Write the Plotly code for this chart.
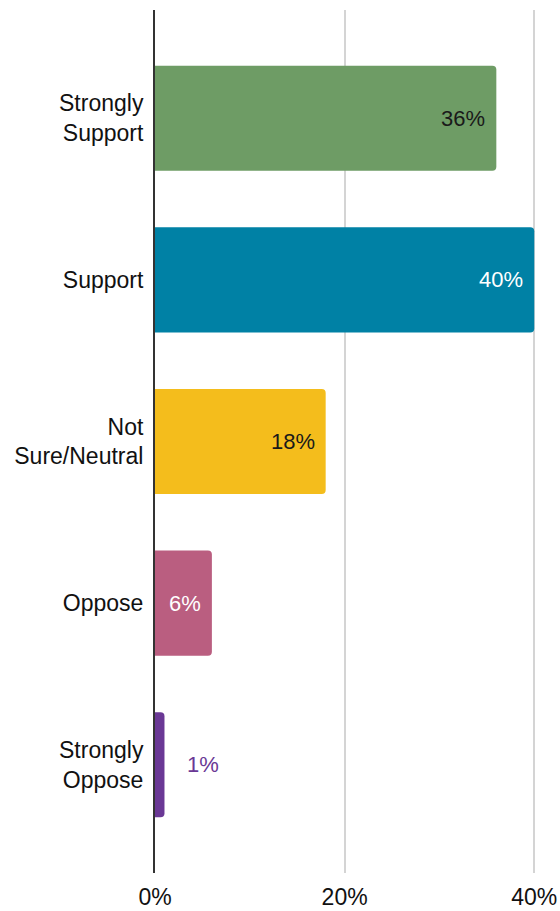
import plotly.graph_objects as go

# Survey responses, top to bottom
categories = ["Strongly<br>Support", "Support", "Not<br>Sure/Neutral", "Oppose", "Strongly<br>Oppose"]
values = [36, 40, 18, 6, 1]
labels = ["36%", "40%", "18%", "6%", "1%"]
colors = ["#6e9c65", "#0081a5", "#f4bd1c", "#ba5e80", "#6a3895"]
label_colors = ["#1a1a1a", "#ffffff", "#1a1a1a", "#ffffff", "#6a3895"]
x_ticks = [0, 20, 40]
x_tick_labels = ["0%", "20%", "40%"]

FONT = "Liberation Sans, Arial, sans-serif"
AXIS_SIZE = 23
LABEL_SIZE = 22

fig = go.Figure(
    go.Bar(
        x=values,
        y=categories,
        orientation="h",
        marker=dict(color=colors, line=dict(width=0)),
        hoverinfo="skip",
    )
)

# Value labels: inside near the bar end, or just outside for very short bars
annotations = []
for cat, val, lab, col in zip(categories, values, labels, label_colors):
    inside = val >= 5
    annotations.append(
        dict(
            x=val,
            y=cat,
            text=lab,
            showarrow=False,
            xanchor="right" if inside else "left",
            xshift=-9 if inside else 21,
            font=dict(family=FONT, size=LABEL_SIZE, color=col),
        )
    )

fig.update_layout(
    width=560,
    height=911,
    margin=dict(l=155, r=21, t=10, b=38, autoexpand=False),
    paper_bgcolor="white",
    plot_bgcolor="white",
    bargap=0.35,
    barcornerradius=4,
    showlegend=False,
    annotations=annotations,
    font=dict(family=FONT, size=AXIS_SIZE, color="#111111"),
    xaxis=dict(
        range=[0, 40.5],
        tickvals=x_ticks,
        ticktext=x_tick_labels,
        showgrid=True,
        gridcolor="#d4d4d4",
        gridwidth=2,
        zeroline=False,
        showline=False,
        ticks="",
        automargin=False,
        ticklabelstandoff=8,
        tickfont=dict(family=FONT, size=AXIS_SIZE, color="#111111"),
        fixedrange=True,
    ),
    yaxis=dict(
        type="category",
        categoryorder="array",
        categoryarray=categories,
        range=[4.67, -0.67],
        showgrid=False,
        zeroline=False,
        showline=True,
        linecolor="#333333",
        linewidth=2,
        ticks="",
        automargin=False,
        ticklabelstandoff=5,
        tickfont=dict(family=FONT, size=AXIS_SIZE, color="#111111"),
        fixedrange=True,
    ),
)

fig.write_html("out.html")
